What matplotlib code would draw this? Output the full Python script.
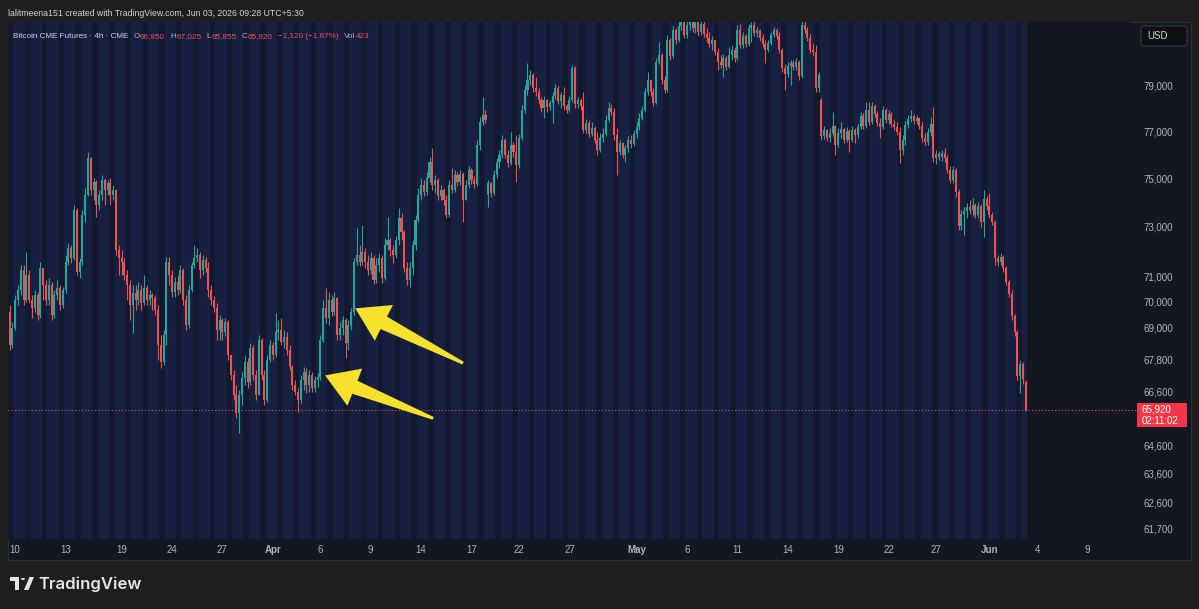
import numpy as np
import matplotlib
matplotlib.use('Agg')
import matplotlib.pyplot as plt
from matplotlib.patches import Rectangle, Polygon, FancyBboxPatch, Circle
from matplotlib.ticker import FixedLocator, FuncFormatter, NullLocator
from matplotlib.transforms import IdentityTransform

plt.rcParams['font.family'] = ['Liberation Sans', 'DejaVu Sans']

# Bitcoin CME Futures, 4h candles
opens = [
    69600, 68330, 68980, 70070, 70460, 71250, 70070, 71050, 70070, 69760,
    70260, 69480, 71330, 70660, 70070, 70660, 69480, 70260, 70540, 69870,
    70460, 71570, 72130, 71730, 73680, 71170, 71570, 73470, 74300, 75850,
    74500, 74840, 73880, 74300, 74920, 74500, 74800, 74300, 74500, 72050,
    71730, 71570, 71050, 70660, 69870, 70340, 70070, 70460, 69950, 70540,
    70070, 70260, 70150, 69680, 68330, 67680, 68710, 71570, 71050, 70380,
    70780, 70460, 71250, 70070, 69100, 70460, 71450, 71730, 71850, 71250,
    71650, 71330, 70460, 70070, 69760, 68900, 69290, 68830, 69210, 67950,
    67190, 66450, 65780, 66450, 67080, 67680, 66930, 68220, 67190, 66450,
    68520, 67190, 66260, 67760, 68330, 67950, 68830, 68900, 68440, 68630,
    68140, 67500, 66820, 66560, 66260, 67010, 67310, 66820, 67190, 66710,
    67010, 67120, 68520, 69760, 69370, 70070, 69600, 70150, 68710, 68980,
    69290, 68410, 69100, 69600, 71570, 71850, 71570, 71970, 71570, 71250,
    71730, 70850, 71450, 71730, 70930, 72250, 72450, 72050, 71850, 72450,
    73350, 72780, 71330, 70850, 71330, 72250, 73270, 74300, 74710, 74420,
    75000, 75680, 74710, 74920, 74260, 74500, 74090, 73470, 74710, 74500,
    75130, 74840, 75170, 74090, 74710, 75340, 74920, 74750, 76400, 77390,
    77690, 74300, 74800, 74380, 75130, 75680, 75970, 76610, 75970, 75640,
    76400, 76100, 75550, 76700, 77910, 78780, 79220, 79440, 78870, 78690,
    78340, 77990, 78340, 78040, 78210, 78520, 78870, 78300, 78560, 78080,
    77910, 78340, 79750, 78170, 78340, 78080, 77040, 77340, 76870, 77130,
    76610, 76190, 76700, 76870, 77470, 77990, 77820, 76830, 76100, 76480,
    75970, 76270, 76610, 76440, 76870, 77170, 77560, 77910, 78690, 79220,
    78690, 78210, 80020, 80330, 79220, 78780, 81010, 80290, 81470, 81010,
    81650, 81830, 81240, 81690, 81920, 81560, 81830, 81370, 81740, 81280,
    81100, 80830, 81010, 80470, 80020, 79890, 80200, 79800, 80330, 80560,
    80200, 81470, 80780, 81190, 80830, 81560, 81690, 81330, 81470, 81100,
    80830, 80560, 80870, 81240, 81470, 81190, 80560, 79750, 79490, 79840,
    79980, 79800, 80020, 79400, 81690, 81470, 81100, 80560, 80470, 78870,
    78340, 76780, 77040, 76700, 76910, 77210, 76400, 76910, 77080, 76610,
    77000, 76610, 77040, 76830, 77170, 77650, 77210, 77910, 77390, 78080,
    77730, 77340, 77170, 77910, 77470, 77730, 77300, 77170, 76960, 76190,
    76610, 77260, 77520, 77650, 77430, 77560, 77210, 76700, 76530, 76960,
    77300, 75850, 76020, 75890, 76060, 75850, 75340, 74920, 75340, 74420,
    73020, 73510, 73640, 73800, 73680, 73880, 73470, 73840, 73190, 74130,
    73840, 73470, 73190, 71730, 71570, 71770, 71330, 70780, 70300, 69440,
    68830, 67160, 67610, 66950,
]
highs = [
    69870, 69210, 70260, 70660, 71450, 71450, 71970, 71250, 70260, 70460,
    70380, 71570, 71330, 70850, 70930, 70780, 70460, 70850, 70660, 70580,
    71850, 72330, 72250, 73880, 73760, 71730, 73680, 74590, 76100, 75900,
    75000, 74920, 74500, 75130, 75000, 74920, 75000, 74710, 74500, 72250,
    72050, 71730, 71250, 70850, 70660, 70660, 70780, 70660, 71050, 70660,
    70460, 70340, 70260, 69870, 68710, 68900, 71770, 71770, 71250, 70970,
    71050, 71450, 71330, 70260, 70660, 71570, 72250, 72130, 71970, 71850,
    71770, 71570, 70660, 70220, 69950, 69480, 69370, 69370, 69290, 67950,
    67380, 66820, 66630, 67310, 67950, 67840, 68410, 68330, 67380, 68710,
    68600, 67380, 67950, 68520, 68440, 69560, 69290, 69370, 68900, 68830,
    68330, 67570, 67010, 66710, 67190, 67500, 67460, 67380, 67310, 67160,
    67270, 68710, 70070, 70540, 70380, 70260, 70380, 70180, 69210, 69440,
    69370, 69290, 69760, 71730, 72940, 72250, 73060, 72130, 71850, 71970,
    71850, 71730, 71930, 71850, 72530, 73390, 72530, 72250, 72620, 73760,
    73550, 72860, 71570, 71570, 72450, 73470, 74590, 75000, 74920, 75260,
    75890, 76270, 75130, 75000, 74710, 74590, 74300, 74920, 75430, 75340,
    75260, 75340, 75260, 74920, 75510, 75430, 75090, 76610, 77600, 78470,
    77910, 74920, 74840, 75340, 75850, 76190, 76830, 76700, 76190, 76960,
    76530, 76830, 76870, 78120, 79000, 79980, 79660, 79530, 79350, 78870,
    78470, 78520, 78390, 78340, 78690, 79040, 78960, 78690, 78910, 78170,
    78520, 79890, 79840, 78470, 78430, 78690, 77520, 77470, 77390, 77210,
    76960, 76910, 77130, 77690, 78250, 78170, 77990, 77130, 76610, 76530,
    76400, 76780, 76830, 77040, 77390, 77780, 78080, 78870, 79580, 79220,
    78870, 80200, 80920, 80420, 79400, 81240, 81100, 81650, 81560, 82010,
    82290, 82010, 82200, 82380, 82150, 82200, 82010, 82110, 81920, 81560,
    81370, 81190, 81010, 80650, 80330, 80380, 80290, 80690, 80780, 80690,
    81690, 81740, 81370, 81280, 81740, 81830, 81920, 81600, 81510, 81280,
    81010, 81010, 81370, 81600, 81560, 81370, 80650, 79930, 80020, 80110,
    80110, 80200, 80110, 82010, 81920, 81600, 81280, 80870, 80780, 79580,
    78430, 77210, 77080, 77130, 77820, 77260, 77130, 77390, 77130, 77170,
    77080, 77210, 77130, 77300, 77820, 77780, 78250, 78250, 78250, 78170,
    77860, 77560, 78080, 77990, 77910, 77820, 77470, 77390, 77170, 76830,
    77430, 77690, 77910, 77730, 77690, 77600, 77390, 76910, 77130, 77600,
    78040, 76190, 76140, 76190, 76270, 75970, 75510, 75510, 75430, 74550,
    73680, 73800, 73970, 74090, 74170, 73970, 74010, 73920, 74500, 74260,
    74380, 73600, 73270, 71850, 71930, 71850, 71410, 70850, 70460, 69520,
    68900, 67760, 67680, 67025,
]
lows = [
    68140, 68220, 68900, 69870, 70260, 69870, 69990, 69950, 69370, 69600,
    69290, 69370, 70070, 69870, 69870, 69290, 69370, 70070, 69680, 69760,
    70340, 71450, 71530, 71650, 71050, 70930, 71450, 73190, 74250, 74300,
    74090, 73390, 73680, 74090, 73880, 74300, 73880, 74090, 71850, 71050,
    71050, 70850, 70070, 69290, 68790, 69680, 69870, 69680, 69870, 69870,
    69870, 69680, 69480, 67760, 67460, 67570, 68330, 70660, 70180, 70180,
    70260, 70340, 69870, 68900, 68980, 70380, 71330, 71570, 70930, 71050,
    71170, 70180, 69870, 69600, 68520, 68520, 68520, 68670, 67760, 67010,
    66260, 65600, 65050, 66080, 66820, 66710, 66820, 67010, 66260, 66450,
    67010, 66080, 66190, 67680, 67760, 67870, 68520, 68330, 68220, 67950,
    67380, 66630, 66450, 65820, 66150, 66630, 66520, 66560, 66560, 66560,
    66750, 67010, 68440, 69170, 69100, 69440, 69480, 68520, 68520, 68710,
    67840, 68140, 68900, 69500, 71450, 71410, 71450, 71330, 71050, 71090,
    70700, 70740, 71170, 70740, 70850, 72050, 71810, 71530, 71730, 72250,
    72450, 71170, 70660, 70580, 71050, 72050, 73190, 74090, 74260, 74300,
    74840, 74500, 74380, 74090, 74090, 73880, 73350, 73390, 74380, 74420,
    74670, 74710, 73190, 74090, 74590, 74750, 74590, 74670, 76190, 77260,
    77340, 73800, 74210, 74300, 75000, 75430, 75850, 75850, 75470, 75550,
    75890, 74840, 75430, 76610, 77780, 78560, 79000, 78690, 78520, 78170,
    77820, 77560, 77820, 77910, 77340, 78390, 78170, 77990, 77910, 77780,
    77820, 78250, 77990, 77990, 77910, 76910, 76910, 76740, 76780, 76480,
    75970, 76100, 76530, 76780, 77390, 77690, 76610, 75130, 75970, 75850,
    75680, 76100, 76270, 76360, 76700, 77040, 77470, 77820, 78560, 78520,
    78080, 78170, 79930, 79040, 78650, 78690, 80110, 80200, 80830, 80920,
    81470, 81100, 81100, 81470, 81370, 81330, 81190, 81240, 81150, 80920,
    80690, 80560, 80330, 79660, 79750, 79350, 79660, 79750, 80110, 80020,
    80110, 80650, 80650, 80690, 80740, 80920, 81190, 81150, 80960, 80690,
    79980, 80470, 80780, 81150, 81060, 80420, 79580, 78780, 79350, 79000,
    79660, 79660, 79220, 79310, 81330, 80960, 80420, 80290, 78690, 78690,
    76610, 76660, 76570, 76530, 76780, 75970, 76310, 76700, 76480, 76530,
    76100, 76530, 76480, 76700, 77080, 77080, 77130, 77260, 77300, 77600,
    77210, 76700, 77080, 77340, 77300, 77170, 77040, 76830, 75640, 75970,
    76400, 77130, 77390, 77300, 77300, 77080, 76530, 76400, 76400, 76780,
    75680, 75590, 75760, 75720, 75680, 75210, 74800, 74800, 74210, 72860,
    72860, 72660, 73350, 73510, 73430, 73350, 73350, 72980, 72580, 73680,
    73350, 73060, 71450, 71410, 71450, 71170, 70660, 70180, 69290, 68670,
    67010, 66520, 66860, 65855,
]
closes = [
    68330, 68980, 70070, 70460, 71250, 70070, 71050, 70070, 69760, 70260,
    69480, 71330, 70660, 70070, 70660, 69480, 70260, 70540, 69870, 70460,
    71570, 72130, 71730, 73680, 71170, 71570, 73470, 74300, 75850, 74500,
    74840, 73880, 74300, 74920, 74500, 74800, 74300, 74500, 72050, 71730,
    71570, 71050, 70660, 69870, 70340, 70070, 70460, 69950, 70540, 70070,
    70260, 70150, 69680, 68330, 67680, 68710, 71570, 71050, 70380, 70780,
    70460, 71250, 70070, 69100, 70460, 71450, 71730, 71850, 71250, 71650,
    71330, 70460, 70070, 69760, 68900, 69290, 68830, 69210, 67950, 67190,
    66450, 65780, 66450, 67080, 67680, 66930, 68220, 67190, 66450, 68520,
    67190, 66260, 67760, 68330, 67950, 68830, 68900, 68440, 68630, 68140,
    67500, 66820, 66560, 66260, 67010, 67310, 66820, 67190, 66710, 67010,
    67120, 68520, 69760, 69370, 70070, 69600, 70150, 68710, 68980, 69290,
    68410, 69100, 69600, 71570, 71850, 71570, 71970, 71570, 71250, 71730,
    70850, 71450, 71730, 70930, 72250, 72450, 72050, 71850, 72450, 73350,
    72780, 71330, 70850, 71330, 72250, 73270, 74300, 74710, 74420, 75000,
    75680, 74710, 74920, 74260, 74500, 74090, 73470, 74710, 74500, 75130,
    74840, 75170, 74090, 74710, 75340, 74920, 74750, 76400, 77390, 77690,
    77470, 74800, 74380, 75130, 75680, 75970, 76610, 75970, 75640, 76400,
    76100, 75550, 76700, 77910, 78780, 79220, 79440, 78870, 78690, 78340,
    77990, 78340, 78040, 78210, 78520, 78870, 78300, 78560, 78080, 77910,
    78340, 79750, 78170, 78340, 78080, 77040, 77340, 76870, 77130, 76610,
    76190, 76700, 76870, 77470, 77990, 77820, 76830, 76100, 76480, 75970,
    76270, 76610, 76440, 76870, 77170, 77560, 77910, 78690, 79220, 78690,
    78210, 80020, 80330, 79220, 78780, 81010, 80290, 81470, 81010, 81650,
    81830, 81240, 81690, 81920, 81560, 81830, 81370, 81740, 81280, 81100,
    80830, 81010, 80470, 80020, 79890, 80200, 79800, 80330, 80560, 80200,
    81470, 80780, 81190, 80830, 81560, 81690, 81330, 81470, 81100, 80830,
    80560, 80870, 81240, 81470, 81190, 80560, 79750, 79490, 79840, 79980,
    79800, 80020, 79400, 81690, 81470, 81100, 80560, 80470, 78870, 79440,
    76780, 77040, 76700, 76910, 77210, 76400, 76910, 77080, 76610, 77000,
    76610, 77040, 76830, 77170, 77650, 77210, 77910, 77390, 78080, 77730,
    77340, 77170, 77910, 77470, 77730, 77300, 77170, 76960, 76190, 76610,
    77260, 77520, 77650, 77430, 77560, 77210, 76700, 76530, 76960, 77300,
    75850, 76020, 75890, 76060, 75850, 75340, 74920, 75340, 74420, 73020,
    73510, 73640, 73800, 73680, 73880, 73470, 73840, 73190, 74130, 73840,
    73470, 73190, 71730, 71570, 71770, 71330, 70780, 70300, 69440, 68830,
    67160, 67610, 67040, 65920,
]

price_ticks = [61700, 62600, 63600, 64600, 66600, 67800, 69000, 70000,
               71000, 73000, 75000, 77000, 79000]
date_ticks = [2, 20, 40, 58, 76, 94, 111, 129, 147, 165, 182, 200,
              224, 242, 260, 278, 296, 314, 331, 350, 367, 385]
date_labels = ['10', '13', '19', '24', '27', 'Apr', '6', '9', '14', '17',
               '22', '27', 'May', '6', '11', '14', '19', '22', '27', 'Jun',
               '4', '9']
volume_last = 423

W, H = 1199, 609
UP, DOWN = '#26a69a', '#ef5350'
TXT = '#b2b5be'


def fx(x):
    return x / W


def fy(y):
    return 1 - y / H


fig = plt.figure(figsize=(W / 100, H / 100), dpi=100, facecolor='#1e1e1e')

# chart panel (plot + price scale + time scale), drawn under the axes
fig.patches.append(Rectangle((fx(8), fy(560)), fx(1183), 538 / H,
                             transform=fig.transFigure, facecolor='#131722',
                             edgecolor='#2a2e39', lw=0.8, zorder=-5))

ax = fig.add_axes([fx(8), fy(539), fx(1122), 517 / H])
ax.set_facecolor('#131722')
for s in ax.spines.values():
    s.set_visible(False)

o = np.array(opens, float)
h = np.array(highs, float)
l = np.array(lows, float)
c = np.array(closes, float)
idx = np.arange(len(c))
up = c >= o
cols = np.where(up, UP, DOWN)

# per-bar session background stripes
bg = np.where(idx % 6 < 2, '#121830', '#172040')
ax.bar(idx, 1e6, bottom=1e4, width=1.0, color=bg, linewidth=0, zorder=0)

ax.vlines(idx, l, h, colors=cols, linewidth=0.8, zorder=2)
body_lo = np.minimum(o, c)
body_h = np.maximum(np.abs(c - o), body_lo * 0.0004)
ax.bar(idx, body_h, bottom=body_lo, width=0.72, color=cols, linewidth=0, zorder=3)

ax.set_yscale('log')
ax.set_xlim(-0.55, 400.2)
ax.set_ylim(61330, 81830)

ax.yaxis.tick_right()
ax.yaxis.set_major_locator(FixedLocator(price_ticks))
ax.yaxis.set_minor_locator(NullLocator())
ax.yaxis.set_major_formatter(FuncFormatter(lambda v, p: f'{v:,.0f}'))
ax.tick_params(axis='y', length=0, pad=9.5, labelsize=7, labelcolor=TXT)

ax.xaxis.set_major_locator(FixedLocator(date_ticks))
ax.set_xticklabels(date_labels)
ax.tick_params(axis='x', length=0, pad=4, labelsize=7, labelcolor=TXT)
for t in ax.get_xticklabels():
    if t.get_text() in ('Apr', 'May', 'Jun'):
        t.set_fontweight('bold')

# last price dotted line
ax.plot([0, 1.006], [c[-1], c[-1]], transform=ax.get_yaxis_transform(),
        color=DOWN, lw=0.8, ls=(0, (1, 2)), clip_on=False, zorder=4)

fig.canvas.draw()
renderer = fig.canvas.get_renderer()
yd = ax.transData.transform((0, c[-1]))[1]

# last price label
fig.patches.append(Rectangle((fx(1137), (yd - 17) / H), fx(50), 24 / H,
                             transform=fig.transFigure, facecolor='#f23645',
                             edgecolor='none', zorder=5))
fig.text(fx(1142), (yd + 0.5) / H, f'{c[-1]:,.0f}', color='white', fontsize=7,
         va='center', ha='left', zorder=6)
fig.text(fx(1142), (yd - 11) / H, '02:11:02', color='white', fontsize=7,
         va='center', ha='left', zorder=6)

# USD box
fig.patches.append(FancyBboxPatch((fx(1141), fy(46)), fx(46), 20 / H,
                                  boxstyle='round,pad=0,rounding_size=0.003',
                                  transform=fig.transFigure, facecolor='#0f1014',
                                  edgecolor='#363a45', lw=0.8, zorder=5))
fig.text(fx(1147), fy(36), 'USD', color='#d1d4dc', fontsize=7, va='center', zorder=6)


# yellow arrows (tip, tail in bar index / price)
def arrow_poly(tip, tail, head_len=32, head_half=20, neck_half=7, tail_half=1.5):
    tip = ax.transData.transform(tip)
    tail = ax.transData.transform(tail)
    u = (tip - tail) / np.hypot(*(tip - tail))
    n = np.array([-u[1], u[0]])
    base = tip - u * head_len
    return [tip, base + n * head_half, base + n * neck_half, tail + n * tail_half,
            tail - n * tail_half, base - n * neck_half, base - n * head_half]


for tip, tail in [((123.5, 69750), (162, 67650)), ((112.7, 67190), (151.3, 65600))]:
    fig.patches.append(Polygon(arrow_poly(tip, tail), closed=True, facecolor='#f6e22c',
                               edgecolor='none', transform=IdentityTransform(), zorder=7))

# header
fig.text(fx(8), fy(13), 'lalitmeena151 created with TradingView.com, Jun 03, 2026 09:28 UTC+5:30',
         color='#d1d4dc', fontsize=6.3, va='center')
chg = c[-1] - c[-2]
pct = chg / c[-2] * 100
# (text, colour, gap after in px)
parts = [('Bitcoin CME Futures · 4h · CME', '#d1d4dc', 5),
         ('O', TXT, 0.5), (f'{o[-1]:,.0f}', DOWN, 5),
         ('H', TXT, 0.5), (f'{h[-1]:,.0f}', DOWN, 5),
         ('L', TXT, 0.5), (f'{l[-1]:,.0f}', DOWN, 5),
         ('C', TXT, 0.5), (f'{c[-1]:,.0f}', DOWN, 5),
         (f'\u2212{abs(chg):,.0f} (\u2212{abs(pct):.2f}%)', DOWN, 5),
         ('Vol', TXT, 0.5), (f'{volume_last}', DOWN, 0)]
xpos = 13
for txt, col, gap in parts:
    t = fig.text(fx(xpos), fy(38), txt, color=col, fontsize=5.9, va='baseline')
    xpos = t.get_window_extent(renderer).x1 + gap

# TradingView logo
fig.patches.append(Rectangle((fx(10), fy(581)), fx(9), 4 / H, transform=fig.transFigure,
                             facecolor='#e6e6e6', edgecolor='none'))
fig.patches.append(Rectangle((fx(15), fy(590)), fx(4), 13 / H, transform=fig.transFigure,
                             facecolor='#e6e6e6', edgecolor='none'))
fig.patches.append(Circle((fx(23), fy(579)), 2 / W, transform=fig.transFigure,
                          facecolor='#e6e6e6', edgecolor='none'))
fig.patches.append(Polygon([(fx(24), fy(590)), (fx(28.5), fy(590)), (fx(34), fy(577)),
                            (fx(29.5), fy(577))], closed=True, transform=fig.transFigure,
                           facecolor='#e6e6e6', edgecolor='none'))
fig.text(fx(38), fy(584), 'TradingView', color='#e6e6e6', fontsize=12,
         family=['Inter', 'DejaVu Sans'], fontweight='semibold', va='center')

fig.savefig('out.png', dpi=100, facecolor=fig.get_facecolor())
